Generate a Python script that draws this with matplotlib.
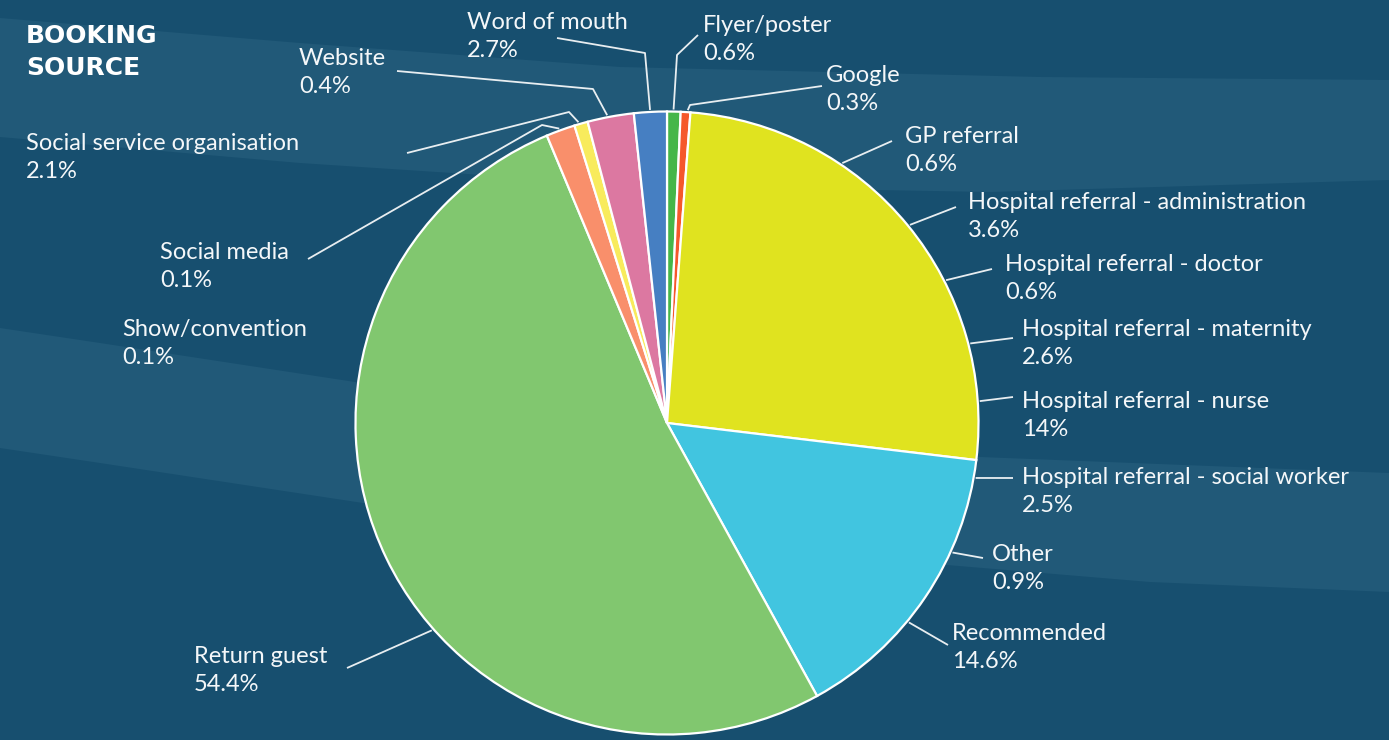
import matplotlib
matplotlib.use("Agg")
import matplotlib.pyplot as plt
from matplotlib.patches import Polygon
import numpy as np

W, H = 1389, 740

# ---- data -------------------------------------------------------------
# Pie slices as drawn, clockwise from 12 o'clock (percent of circle)
slice_values = [0.7, 0.5, 25.7, 15.1, 51.7, 1.5, 0.7, 2.4, 1.7]
slice_colors = ["#45B649", "#F5582B", "#E0E31F", "#41C5E0", "#81C76F",
                "#F98F6B", "#F8EB5C", "#DC78A1", "#467FC2"]

label_names = ["Flyer/poster", "Google", "GP referral",
               "Hospital referral - administration",
               "Hospital referral - doctor",
               "Hospital referral - maternity",
               "Hospital referral - nurse",
               "Hospital referral - social worker",
               "Other", "Recommended", "Return guest", "Show/convention",
               "Social media", "Social service organisation", "Website",
               "Word of mouth"]
label_pcts = [0.6, 0.3, 0.6, 3.6, 0.6, 2.6, 14, 2.5, 0.9, 14.6, 54.4,
              0.1, 0.1, 2.1, 0.4, 2.7]

title_lines = ["BOOKING", "SOURCE"]

# ---- layout (pixel coordinates, y measured from top) -------------------
CX, CY, R = 667, 423, 311.5
label_xy = [(703, 32), (826, 82), (905, 143), (968, 209), (1005, 271),
            (1022, 336), (1022, 408), (1022, 484), (992, 561), (952, 640),
            (194, 663), (122, 336), (160, 259), (26, 150), (299, 65),
            (467, 29)]
# angle on the pie (degrees clockwise from 12 o'clock) where each leader ends
anchor_deg = [1.2, 3.8, 34.0, 50.8, 62.9, 75.3, 86.0, 100.1, 114.4, 129.5,
              228.6, None, 339.9, 343.6, 349.0, 356.9]
leader_pts = [[(698, 35), (677, 55)],
              [(822, 86), (690, 105)],
              [(892, 141)],
              [(956, 207)],
              [(992, 269)],
              [(1013, 338)],
              [(1013, 397)],
              [(1013, 478)],
              [(983, 558)],
              [(948, 645)],
              [(347, 668)],
              [],
              [(308, 259), (542, 125)],
              [(407, 153), (569, 112)],
              [(397, 71), (593, 89)],
              [(557, 38), (645, 53)]]

BG = "#174F6F"
BAND = "#215978"
TXT = "#F4F7F9"
FS = 17


def Y(y):
    return H - y


fig = plt.figure(figsize=(W / 100, H / 100), dpi=100, facecolor=BG)
ax = fig.add_axes([0, 0, 1, 1])
ax.set_facecolor(BG)

# background light bands
bands = [
    [(0, 18), (300, 43), (620, 67), (1040, 77), (1389, 80),
     (1389, 180), (990, 192), (650, 186), (300, 163), (0, 137)],
    [(0, 328), (100, 343), (355, 382), (980, 457), (1389, 473),
     (1389, 592), (1150, 582), (947, 565), (363, 503), (100, 463), (0, 448)],
]
for b in bands:
    ax.add_patch(Polygon([(x, Y(y)) for x, y in b], closed=True,
                         facecolor=BAND, edgecolor="none", zorder=0))

ax.pie(slice_values, colors=slice_colors, startangle=90, counterclock=False,
       center=(CX, Y(CY)), radius=R,
       wedgeprops=dict(edgecolor="white", linewidth=1.6, zorder=2))

ax.set_xlim(0, W)
ax.set_ylim(0, H)
ax.set_aspect("equal")
ax.axis("off")

# labels + leader lines
for name, pct, (lx, ly), ang, pts in zip(label_names, label_pcts, label_xy,
                                         anchor_deg, leader_pts):
    ax.text(lx, Y(ly), name, fontsize=FS, family="Lato", color=TXT,
            ha="left", va="baseline", zorder=5)
    ax.text(lx, Y(ly + 28), f"{pct:g}%", fontsize=FS, family="Lato",
            color=TXT, ha="left", va="baseline", zorder=5)
    if ang is not None:
        t = np.deg2rad(ang)
        ex = CX + (R + 2) * np.sin(t)
        ey = CY - (R + 2) * np.cos(t)
        xs = [p[0] for p in pts] + [ex]
        ys = [Y(p[1]) for p in pts] + [Y(ey)]
        ax.plot(xs, ys, color="white", lw=1.3, alpha=0.9, zorder=4,
                solid_capstyle="butt")

ax.text(26, Y(43), title_lines[0], fontsize=18, weight="bold",
        family="DejaVu Sans", color="white", ha="left", va="baseline")
ax.text(26, Y(75), title_lines[1], fontsize=18, weight="bold",
        family="DejaVu Sans", color="white", ha="left", va="baseline")

fig.savefig("out.png", dpi=100, facecolor=BG)
